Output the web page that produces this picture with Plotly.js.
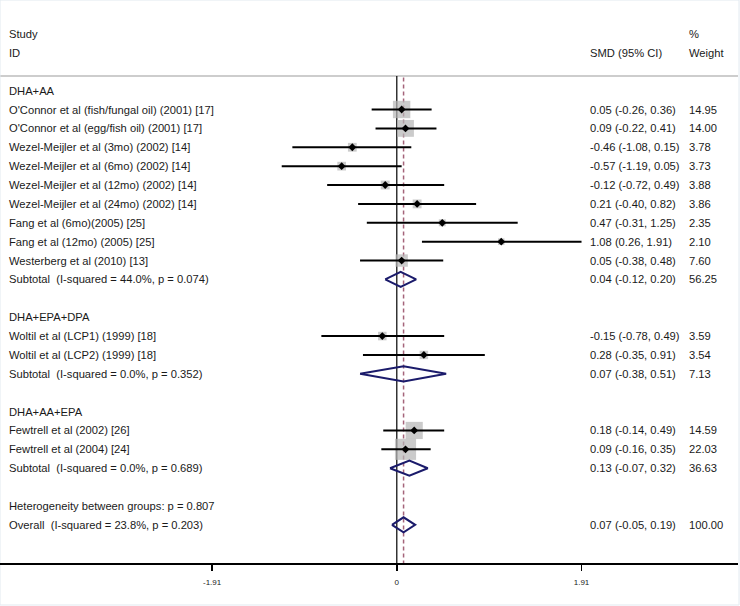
<!DOCTYPE html>
<html>
<head>
<meta charset="utf-8">
<script src="https://cdn.plot.ly/plotly-3.0.1.min.js"></script>
<style>html,body{margin:0;padding:0;background:#fff;}#chart{width:740px;height:606px;}</style>
</head>
<body>
<div id="chart"></div>
<script>
// ---------- data ----------
const groupNames = ['DHA+AA', 'DHA+EPA+DPA', 'DHA+AA+EPA'];
const studies = [
  "O'Connor et al (fish/fungal oil) (2001) [17]",
  "O'Connor et al (egg/fish oil) (2001) [17]",
  "Wezel-Meijler et al (3mo) (2002) [14]",
  "Wezel-Meijler et al (6mo) (2002) [14]",
  "Wezel-Meijler et al (12mo) (2002) [14]",
  "Wezel-Meijler et al (24mo) (2002) [14]",
  "Fang et al (6mo)(2005) [25]",
  "Fang et al (12mo) (2005) [25]",
  "Westerberg et al (2010) [13]",
  "Woltil et al (LCP1) (1999) [18]",
  "Woltil et al (LCP2) (1999) [18]",
  "Fewtrell et al (2002) [26]",
  "Fewtrell et al (2004) [24]"
];
const studyGroup = [0,0,0,0,0,0,0,0,0,1,1,2,2];
const smd    = [0.05, 0.09, -0.46, -0.57, -0.12, 0.21, 0.47, 1.08, 0.05, -0.15, 0.28, 0.18, 0.09];
const ciLow  = [-0.26, -0.22, -1.08, -1.19, -0.72, -0.40, -0.31, 0.26, -0.38, -0.78, -0.35, -0.14, -0.16];
const ciHigh = [0.36, 0.41, 0.15, 0.05, 0.49, 0.82, 1.25, 1.91, 0.48, 0.49, 0.91, 0.49, 0.35];
const weight = [14.95, 14.00, 3.78, 3.73, 3.88, 3.86, 2.35, 2.10, 7.60, 3.59, 3.54, 14.59, 22.03];

const subI2     = ['44.0%', '0.0%', '0.0%'];
const subP      = ['0.074', '0.352', '0.689'];
const subEst    = [0.04, 0.07, 0.13];
const subLow    = [-0.12, -0.38, -0.07];
const subHigh   = [0.20, 0.51, 0.32];
const subWeight = [56.25, 7.13, 36.63];

const hetP = '0.807';
const overallI2 = '23.8%';
const overallP = '0.203';
const overallEst = 0.07, overallLow = -0.05, overallHigh = 0.19, overallWeight = 100.00;

const tickVals = [-1.91, 0, 1.91];
const tickText = ['-1.91', '0', '1.91'];

// ---------- layout of rows ----------
const NB = '\u00a0';
const fmtCI = (e, l, h) => e.toFixed(2) + ' (' + l.toFixed(2) + ', ' + h.toFixed(2) + ')';
const rowsStudy = [], rowsGroup = [], rowsSub = [];
let r = 3;
for (let g = 0; g < groupNames.length; g++) {
  rowsGroup.push(r); r++;
  for (let i = 0; i < studies.length; i++) {
    if (studyGroup[i] === g) { rowsStudy[i] = r; r++; }
  }
  rowsSub.push(r); r += 2;
}
const rowHet = r, rowOverall = r + 1;

const FONT = 'Liberation Sans, Arial, sans-serif';
const TXT = '#1a1a1a';
const FS = 11.2;
const annotations = [];
function colText(t, row, px) {
  annotations.push({x: px/738, xref: 'paper', y: row, yref: 'y', text: t, showarrow: false,
    xanchor: 'left', yanchor: 'middle', font: {family: FONT, size: FS, color: TXT}});
}
const xLab = 7, xSMD = 588, xW = 687;
const leftText = (t, row) => colText(t, row, xLab);
leftText('Study', 0); leftText('ID', 1);
colText('%', 0, xW); colText('Weight', 1, xW); colText('SMD (95% CI)', 1, xSMD);
for (let g = 0; g < groupNames.length; g++) {
  leftText(groupNames[g], rowsGroup[g]);
  leftText('Subtotal' + NB + NB + '(I-squared = ' + subI2[g] + ', p = ' + subP[g] + ')', rowsSub[g]);
  colText(fmtCI(subEst[g], subLow[g], subHigh[g]), rowsSub[g], xSMD);
  colText(subWeight[g].toFixed(2), rowsSub[g], xW);
}
for (let i = 0; i < studies.length; i++) {
  leftText(studies[i], rowsStudy[i]);
  colText(fmtCI(smd[i], ciLow[i], ciHigh[i]), rowsStudy[i], xSMD);
  colText(weight[i].toFixed(2), rowsStudy[i], xW);
}
leftText('Heterogeneity between groups: p = ' + hetP, rowHet);
leftText('Overall' + NB + NB + '(I-squared = ' + overallI2 + ', p = ' + overallP + ')', rowOverall);
colText(fmtCI(overallEst, overallLow, overallHigh), rowOverall, xSMD);
colText(overallWeight.toFixed(2), rowOverall, xW);

// ---------- traces ----------
const traces = [];
const ciX = [], ciY = [];
for (let i = 0; i < studies.length; i++) {
  ciX.push(ciLow[i], ciHigh[i], null); ciY.push(rowsStudy[i], rowsStudy[i], null);
}
traces.push({x: smd, y: rowsStudy, mode: 'markers', type: 'scatter', hoverinfo: 'skip',
  marker: {symbol: 'square', color: '#b5b5b5', size: weight.map(w => 4.5 * Math.sqrt(w)), line: {width: 0}}});
traces.push({x: ciX, y: ciY, mode: 'lines', type: 'scatter', hoverinfo: 'skip',
  line: {color: '#000', width: 2}});
traces.push({x: smd, y: rowsStudy, mode: 'markers', type: 'scatter', hoverinfo: 'skip',
  marker: {symbol: 'diamond', color: '#000', size: 6}});
const H = 0.4;
const dX = [], dY = [];
const allE = subEst.concat([overallEst]), allL = subLow.concat([overallLow]), allH = subHigh.concat([overallHigh]);
const allR = rowsSub.concat([rowOverall]);
for (let j = 0; j < allE.length; j++) {
  dX.push(allL[j], allE[j], allH[j], allE[j], allL[j], null);
  dY.push(allR[j], allR[j] - H, allR[j], allR[j] + H, allR[j], null);
}
traces.push({x: dX, y: dY, mode: 'lines', type: 'scatter', hoverinfo: 'skip',
  line: {color: '#1b1b6b', width: 2}});

const layout = {
  width: 740, height: 606,
  margin: {l: 0, r: 2, t: 0, b: 43},
  paper_bgcolor: '#fff', plot_bgcolor: '#fff',
  showlegend: false,
  xaxis: {range: [-4.103, 3.528], tickvals: tickVals, ticktext: tickText, ticks: 'outside',
    ticklen: 6, tickwidth: 1.5, tickcolor: '#000', showline: true, linecolor: '#000', linewidth: 1.5,
    ticklabelstandoff: 5,
    showgrid: false, zeroline: false, tickfont: {family: FONT, size: 8, color: TXT}, fixedrange: true},
  yaxis: {range: [28.02, -1.80], visible: false, showgrid: false, zeroline: false, fixedrange: true},
  annotations: annotations,
  shapes: [
    {type: 'line', xref: 'paper', yref: 'y', x0: 0, x1: 1, y0: 2.22, y1: 2.22, line: {color: '#bdbdbd', width: 1.5}, layer: 'below'},
    {type: 'line', xref: 'x', yref: 'y', x0: 0, x1: 0, y0: 2.22, y1: 28.02, line: {color: '#000', width: 1.2}, layer: 'below'},
    {type: 'line', xref: 'x', yref: 'y', x0: overallEst, x1: overallEst, y0: 2.3, y1: 28.02, line: {color: '#a5647a', width: 1.5, dash: '4px,3px'}, layer: 'below'},
    {type: 'rect', xref: 'paper', yref: 'paper', x0: 0, x1: 1.0014, y0: -0.0746, y1: 1, line: {color: '#e2e9f0', width: 1}, layer: 'below'}
  ]
};
Plotly.newPlot('chart', traces, layout, {staticPlot: true, displayModeBar: false});
</script>
</body>
</html>
